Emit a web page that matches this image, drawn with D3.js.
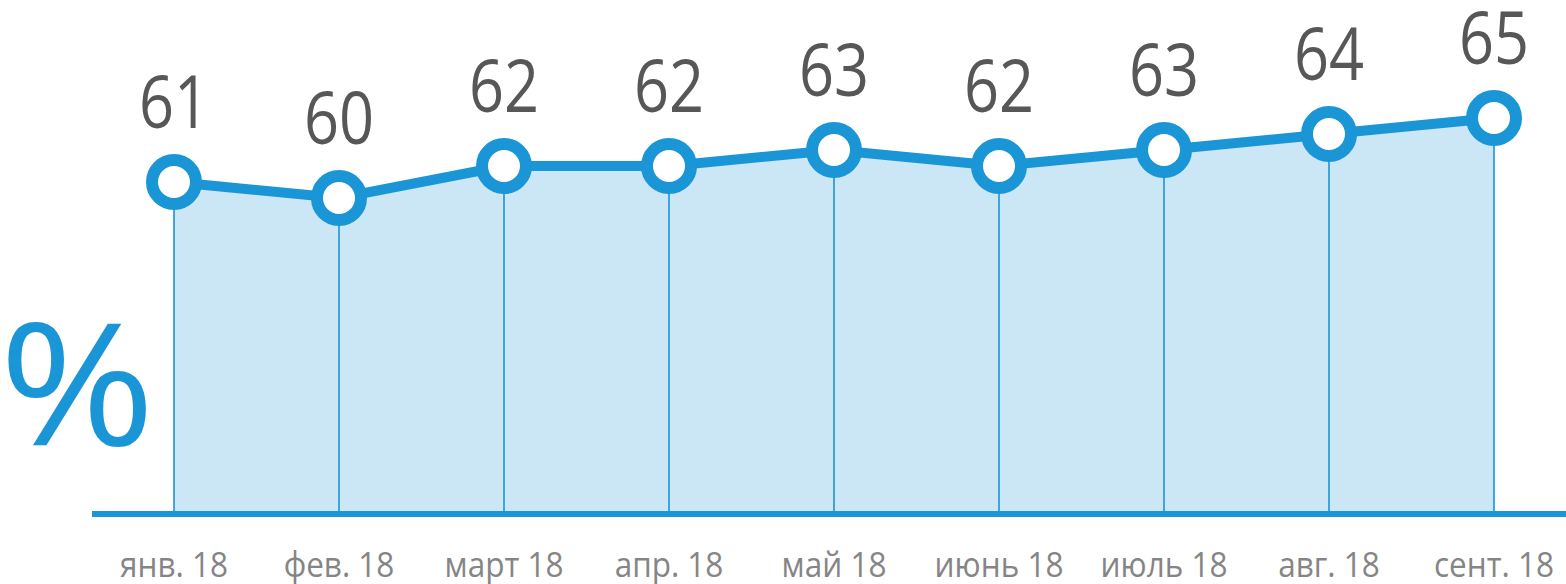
<!DOCTYPE html>
<html><head><meta charset="utf-8">
<script src="https://cdn.jsdelivr.net/npm/d3@7"></script>
<style>html,body{margin:0;padding:0;background:#fff;}svg{display:block;}</style>
</head><body>
<svg id="c" width="1566" height="584"></svg>
<script>
const categories = ["янв. 18","фев. 18","март 18","апр. 18","май 18","июнь 18","июль 18","авг. 18","сент. 18"];
const values = [61, 60, 62, 62, 63, 62, 63, 64, 65];
const yDomain = [40.25, 65];

const svg = d3.select("#c");
const blue = "#1a95d6", fill = "#cbe6f4";
const x = d3.scalePoint().domain(categories).range([174, 1494]);
const y = d3.scaleLinear().domain(yDomain).range([514, 118]);
const data = categories.map((c,i)=>({c, v: values[i]}));
const base = y(yDomain[0]);

svg.append("path").datum(data)
  .attr("d", d3.area().x(d=>x(d.c)).y0(base).y1(d=>y(d.v)))
  .attr("fill", fill);

svg.selectAll("line.drop").data(data).join("line").attr("class","drop")
  .attr("x1", d=>x(d.c)).attr("x2", d=>x(d.c))
  .attr("y1", d=>y(d.v)).attr("y2", base)
  .attr("stroke", blue).attr("stroke-width", 1.6);

svg.append("line").attr("x1", 92).attr("x2", 1566).attr("y1", base).attr("y2", base)
  .attr("stroke", blue).attr("stroke-width", 6);

svg.append("path").datum(data)
  .attr("d", d3.line().x(d=>x(d.c)).y(d=>y(d.v)))
  .attr("fill","none").attr("stroke", blue).attr("stroke-width", 10);

svg.selectAll("circle.pt").data(data).join("circle").attr("class","pt")
  .attr("cx", d=>x(d.c)).attr("cy", d=>y(d.v)).attr("r", 22)
  .attr("fill","#fff").attr("stroke", blue).attr("stroke-width", 12);

svg.selectAll("text.val").data(data).join("text").attr("class","val")
  .attr("transform", d=>`translate(${x(d.c)},${y(d.v)-54}) scale(0.84,1)`)
  .attr("text-anchor","middle")
  .attr("font-family","'Open Sans', sans-serif").attr("font-size", 73)
  .attr("fill","#575757").text(d=>d.v);

svg.selectAll("text.cat").data(data).join("text").attr("class","cat")
  .attr("transform", d=>`translate(${x(d.c)},577) scale(0.9,1)`)
  .attr("text-anchor","middle")
  .attr("font-family","'Open Sans', sans-serif").attr("font-size", 35)
  .attr("fill","#858585").text(d=>d.c);

svg.append("text").attr("transform","translate(77,445) scale(1.05,0.95)").attr("text-anchor","middle")
  .attr("font-family","'Open Sans', sans-serif").attr("font-size", 180)
  .attr("fill", blue).text("%");
</script>
</body></html>
